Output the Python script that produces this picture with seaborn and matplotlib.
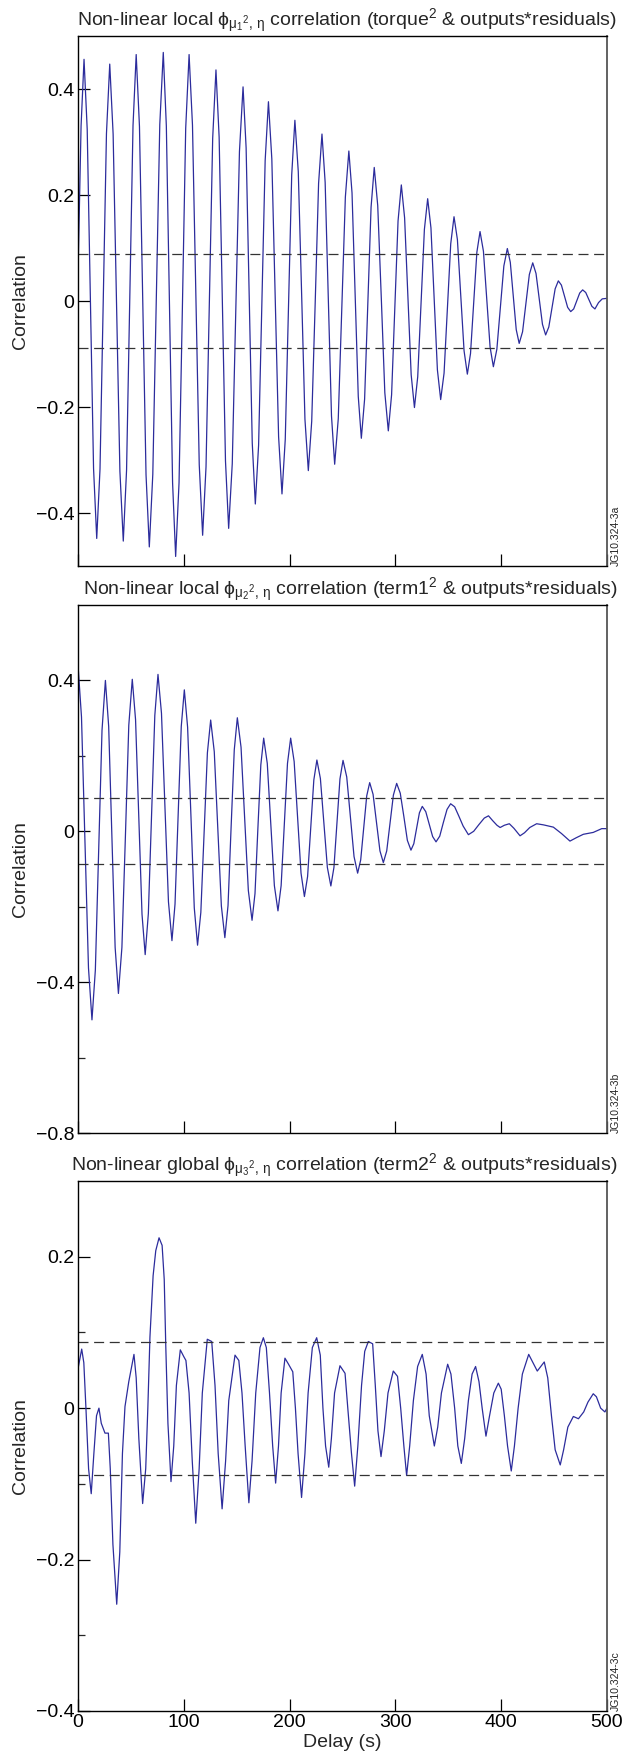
import matplotlib
matplotlib.use("Agg")
import matplotlib.pyplot as plt
import seaborn as sns

# ---------------------------------------------------------------------------
# Panel a: torque^2 & outputs*residuals
delay_a = [0, 2.9, 5.7,
           8.7, 11.7, 14.7, 17.7, 20.8, 23.9, 26.9, 30,
           33.2, 36.4, 39.6, 42.8, 45.9, 48.9, 52.0, 55,
           58.1, 61.2, 64.3, 67.4, 70.7, 74.0, 77.3, 80.6,
           83.5, 86.5, 89.4, 92.3, 95.5, 98.7, 101.8, 105,
           108.2, 111.4, 114.6, 117.8, 121.0, 124.1, 127.3, 130.4,
           133.4, 136.4, 139.4, 142.4, 145.8, 149.2, 152.6, 156,
           158.9, 161.8, 164.7, 167.6, 170.7, 173.8, 176.9, 180,
           183.2, 186.4, 189.6, 192.8, 195.9, 198.9, 202.0, 205,
           208.2, 211.4, 214.5, 217.7, 220.9, 224.2, 227.4, 230.6,
           233.6, 236.6, 239.6, 242.6, 246.0, 249.3, 252.7, 256,
           259.0, 261.9, 264.9, 267.8, 270.9, 273.9, 277.0, 280,
           283.3, 286.7, 290.0, 293.3, 296.4, 299.5, 302.5, 305.6,
           308.7, 311.8, 314.9, 318, 321.1, 324.3, 327.4, 330.5,
           333.6, 336.7, 339.7, 342.8, 346.0, 349.1, 352.3, 355.4,
           358.6, 361.7, 364.9, 368, 371, 374, 377, 380,
           383.2, 386.3, 389.5, 392.6, 395.9, 399.2, 402.5, 405.8,
           408.6, 411.4, 414.2, 417, 420.2, 423.4, 426.6, 429.8,
           432.9, 435.9, 439.0, 442, 445, 448, 451, 454,
           456.9, 459.9, 462.8, 465.7, 468.5, 471.4, 474.2, 477,
           479.9, 482.8, 485.7, 488.6, 492, 495.5, 500]
corr_a = [0.05, 0.33, 0.456,
          0.324, 0.004, -0.316, -0.448, -0.317, 0.0, 0.316, 0.447,
          0.315, -0.003, -0.321, -0.453, -0.319, 0.006, 0.331, 0.465,
          0.329, 0.0, -0.328, -0.464, -0.327, 0.003, 0.333, 0.469,
          0.330, -0.007, -0.343, -0.482, -0.343, -0.009, 0.326, 0.465,
          0.332, 0.012, -0.309, -0.442, -0.313, -0.003, 0.307, 0.436,
          0.309, 0.004, -0.302, -0.429, -0.307, -0.013, 0.282, 0.404,
          0.289, 0.011, -0.268, -0.383, -0.272, -0.004, 0.265, 0.376,
          0.268, 0.006, -0.256, -0.364, -0.261, -0.012, 0.238, 0.341,
          0.244, 0.011, -0.223, -0.320, -0.227, -0.003, 0.222, 0.315,
          0.224, 0.004, -0.217, -0.308, -0.222, -0.013, 0.196, 0.283,
          0.204, 0.012, -0.180, -0.259, -0.185, -0.004, 0.177, 0.252,
          0.180, 0.004, -0.173, -0.245, -0.177, -0.013, 0.151, 0.219,
          0.157, 0.009, -0.139, -0.201, -0.143, -0.004, 0.135, 0.193,
          0.138, 0.004, -0.130, -0.186, -0.136, -0.014, 0.108, 0.159,
          0.116, 0.011, -0.094, -0.138, -0.099, -0.004, 0.092, 0.131,
          0.094, 0.004, -0.087, -0.124, -0.091, -0.013, 0.066, 0.099,
          0.073, 0.010, -0.054, -0.080, -0.058, -0.004, 0.050, 0.072,
          0.052, 0.004, -0.044, -0.064, -0.049, -0.013, 0.023, 0.038,
          0.030, 0.009, -0.012, -0.020, -0.015, 0.0, 0.015, 0.021,
          0.016, 0.003, -0.010, -0.015, -0.003, 0.004, 0.005]

# Panel b: term1^2 & outputs*residuals
delay_b = [0, 3.3, 6.6, 9.9, 13.2,
           16.4, 19.6, 22.7, 25.9, 29.0, 32.1, 35.1, 38.2,
           41.5, 44.8, 48.0, 51.3, 54.4, 57.4, 60.5, 63.5,
           66.5, 69.6, 72.6, 75.6, 78.9, 82.2, 85.5, 88.8,
           91.7, 94.7, 97.6, 100.5, 103.6, 106.8, 109.9, 113,
           116.1, 119.2, 122.3, 125.4, 128.8, 132.1, 135.5, 138.8,
           141.8, 144.7, 147.7, 150.6, 154.1, 157.6, 161.0, 164.5,
           167.3, 170, 172.8, 175.5, 178.9, 182.3, 185.6, 189,
           192, 195, 198, 201, 204.3, 207.5, 210.8, 214,
           217.0, 219.9, 222.9, 225.8, 229.1, 232.4, 235.7, 239,
           241.9, 244.8, 247.6, 250.5, 254.0, 257.4, 260.9, 264.3,
           267.2, 270, 272.9, 275.7, 278.9, 282.2, 285.4, 288.6,
           291.8, 294.9, 298.1, 301.2, 304.6, 308.0, 311.3, 314.7,
           317.4, 320.1, 322.7, 325.4, 328.7, 331.9, 335.2, 338.4,
           341.9, 345.3, 348.8, 352.2, 356, 360, 364, 369,
           374, 379, 384, 388, 392, 396, 399, 403, 407.7,
           412, 417.8, 422, 427, 433.5, 440, 449.3, 457, 465, 471,
           477.6, 487, 495, 500]
corr_b = [0.441, 0.303, -0.030, -0.362, -0.50,
          -0.368, -0.05, 0.268, 0.40, 0.278, -0.015, -0.308, -0.43,
          -0.308, -0.014, 0.281, 0.403, 0.296, 0.038, -0.220, -0.327,
          -0.218, 0.045, 0.307, 0.416, 0.313, 0.063, -0.187, -0.29,
          -0.193, 0.043, 0.278, 0.375, 0.276, 0.037, -0.203, -0.302,
          -0.215, -0.004, 0.208, 0.295, 0.211, 0.007, -0.198, -0.282,
          -0.197, 0.010, 0.216, 0.301, 0.223, 0.033, -0.157, -0.236,
          -0.165, 0.006, 0.176, 0.247, 0.180, 0.018, -0.144, -0.211,
          -0.144, 0.018, 0.180, 0.247, 0.185, 0.037, -0.111, -0.173,
          -0.120, 0.008, 0.136, 0.189, 0.140, 0.022, -0.096, -0.145,
          -0.096, 0.022, 0.139, 0.188, 0.144, 0.039, -0.067, -0.111,
          -0.076, 0.009, 0.094, 0.129, 0.098, 0.023, -0.052, -0.083,
          -0.052, 0.022, 0.096, 0.127, 0.101, 0.039, -0.024, -0.050,
          -0.033, 0.008, 0.049, 0.066, 0.052, 0.019, -0.014, -0.028,
          -0.013, 0.023, 0.058, 0.073, 0.065, 0.040, 0.014, -0.009,
          0.0, 0.018, 0.035, 0.041, 0.028, 0.016, 0.010, 0.016, 0.020,
          0.008, -0.012, -0.004, 0.010, 0.020, 0.017, 0.011, -0.006, -0.026, -0.017,
          -0.008, -0.003, 0.007, 0.007]

# Panel c: term2^2 & outputs*residuals (global model)
delay_c = [0, 3.5, 5.5, 7.5, 10, 12.5, 15, 17.5, 19.8, 22, 25.5, 28.7,
           30.5, 33, 36.6, 39.5, 42, 44.4, 48, 52.9, 55, 57.5, 61.1,
           64, 66, 68, 71, 73.5, 76.6, 79.5, 81.5, 83, 85, 87.9,
           90.5, 93, 96.7, 100, 102, 105, 108, 111.3,
           114.5, 117.5, 122.2, 126.4, 129.5, 132.5, 136.2,
           139.5, 142.5, 148.4, 152, 155, 158, 161.5,
           164.5, 168, 172, 175.2, 178, 181, 184, 186.8,
           189.5, 192, 195.6, 199, 203, 205.5, 208, 211.3,
           214.5, 217.5, 221.5, 225.6, 229, 231.5, 234, 237,
           239.5, 242.5, 247.6, 252.4, 255, 258.5, 261.5,
           264.5, 268, 271, 274.4, 278.5, 281, 283.5, 286.4,
           289.5, 293, 298, 302, 305, 308, 310.6,
           313.5, 317, 321, 325.4, 329, 332, 336.8,
           340, 343.5, 349.4, 352.5, 356, 359, 362.3,
           365.5, 369, 372.5, 375.8, 379, 382, 385.6,
           389, 393, 397.3, 400, 403, 406, 409.5,
           412.5, 416, 420, 426, 430, 434.1, 440.7, 444, 447.5, 451, 455.8,
           459, 463, 468.2, 473, 478, 482, 487, 490, 494, 498, 500]
corr_c = [0.052, 0.078, 0.06, 0.0, -0.08, -0.113, -0.06, -0.01, 0.0, -0.02, -0.033, -0.033,
          -0.08, -0.18, -0.259, -0.19, -0.06, 0.002, 0.035, 0.071, 0.04, -0.04, -0.126,
          -0.08, 0.0, 0.094, 0.175, 0.208, 0.225, 0.215, 0.17, 0.08, -0.02, -0.097,
          -0.05, 0.03, 0.077, 0.068, 0.063, 0.02, -0.07, -0.152,
          -0.08, 0.02, 0.091, 0.088, 0.03, -0.06, -0.133,
          -0.07, 0.01, 0.070, 0.063, 0.02, -0.05, -0.125,
          -0.07, 0.02, 0.08, 0.093, 0.08, 0.02, -0.05, -0.099,
          -0.05, 0.02, 0.066, 0.058, 0.048, 0.0, -0.06, -0.118,
          -0.06, 0.02, 0.08, 0.093, 0.07, 0.0, -0.05, -0.078,
          -0.04, 0.02, 0.056, 0.046, 0.0, -0.06, -0.103,
          -0.05, 0.03, 0.075, 0.088, 0.085, 0.03, -0.03, -0.064,
          -0.03, 0.02, 0.049, 0.042, 0.0, -0.05, -0.089,
          -0.05, 0.01, 0.055, 0.071, 0.045, -0.01, -0.050,
          -0.025, 0.02, 0.058, 0.045, 0.0, -0.05, -0.073,
          -0.04, 0.01, 0.045, 0.055, 0.035, 0.0, -0.037,
          -0.01, 0.02, 0.033, 0.025, -0.01, -0.05, -0.083,
          -0.05, 0.0, 0.045, 0.071, 0.06, 0.049, 0.061, 0.04, -0.01, -0.055, -0.075,
          -0.055, -0.025, -0.011, -0.014, -0.005, 0.008, 0.019, 0.015, 0.0, -0.005, 0.0]

# 95% confidence bound drawn on every panel
conf_bound = 0.088

titles = [
    r"Non-linear local $\phi_{\mu_1{}^2,\,\eta}$ correlation (torque$^2$ & outputs*residuals)",
    r"Non-linear local $\phi_{\mu_2{}^2,\,\eta}$ correlation (term1$^2$ & outputs*residuals)",
    r"Non-linear global $\phi_{\mu_3{}^2,\,\eta}$ correlation (term2$^2$ & outputs*residuals)",
]
tags = ["JG10.324-3a", "JG10.324-3b", "JG10.324-3c"]
y_limits = [(-0.5, 0.5), (-0.8, 0.6), (-0.4, 0.3)]
y_major = [[-0.4, -0.2, 0, 0.2, 0.4], [-0.8, -0.4, 0, 0.4], [-0.4, -0.2, 0, 0.2]]
y_minor = [[], [-0.6, -0.2, 0.2], [-0.3, -0.1, 0.1]]
x_ticks = [0, 100, 200, 300, 400, 500]

# ---------------------------------------------------------------------------
sns.set_style("ticks")
plt.rcParams["font.family"] = ["Liberation Sans", "DejaVu Sans"]
plt.rcParams["mathtext.fontset"] = "custom"
plt.rcParams["mathtext.rm"] = "Liberation Sans"
plt.rcParams["mathtext.it"] = "Liberation Sans"
plt.rcParams["mathtext.bf"] = "Liberation Sans:bold"
plt.rcParams["axes.unicode_minus"] = True

LINE = "#2c2c9c"
FS = 14

W, H = 626, 1764
fig = plt.figure(figsize=(W / 100, H / 100), dpi=100)

# axes boxes in pixels: (top, bottom)
boxes = [(36, 566), (605, 1133), (1181, 1711)]
left_px, right_px = 78, 607

series = [(delay_a, corr_a), (delay_b, corr_b), (delay_c, corr_c)]


def tick_text(v):
    if abs(v) < 1e-9:
        return "0"
    return f"{v:.1f}".replace("-", "\u2212")


for i, ((top, bot), (xs, ys)) in enumerate(zip(boxes, series)):
    ax = fig.add_axes([left_px / W, 1 - bot / H, (right_px - left_px) / W, (bot - top) / H])
    sns.lineplot(x=xs, y=ys, ax=ax, color=LINE, lw=0.9, estimator=None, sort=False,
                 solid_joinstyle="round", solid_capstyle="round")
    for b in (conf_bound, -conf_bound):
        ax.axhline(b, color="#333333", lw=0.9, dashes=(8, 4.5))

    ax.set_xlim(0, 500)
    ax.set_ylim(*y_limits[i])
    ax.set_yticks(y_major[i])
    ax.set_yticklabels([tick_text(v) for v in y_major[i]])
    ax.set_yticks(y_minor[i], minor=True)
    ax.set_xticks(x_ticks)
    ax.set_xticklabels([str(v) for v in x_ticks])

    ax.tick_params(which="major", direction="in", length=8.5, width=0.9,
                   labelsize=FS, pad=2.5, top=False, right=False, colors="black")
    ax.tick_params(which="minor", direction="in", length=5, width=0.9,
                   top=False, right=False)
    for side, sp in ax.spines.items():
        sp.set_visible(True)
        sp.set_linewidth(1.0)
        sp.set_color("black")
    ax.spines["right"].set_color("#555555")
    ax.spines["right"].set_linewidth(1.3)

    ax.set_ylabel("Correlation", fontsize=FS)
    ax.yaxis.set_label_coords(-0.092, 0.5)
    if i < 2:
        ax.tick_params(labelbottom=False)
        ax.set_xlabel("")
    else:
        ax.set_xlabel("Delay (s)", fontsize=FS, labelpad=2)

    fig.text(617 / W, 1 - (top - 10) / H, titles[i], ha="right", va="baseline", fontsize=FS)
    fig.text(616 / W, 1 - bot / H, tags[i], rotation=90, ha="center", va="bottom", fontsize=7.5)

fig.savefig("out.png", dpi=100)
